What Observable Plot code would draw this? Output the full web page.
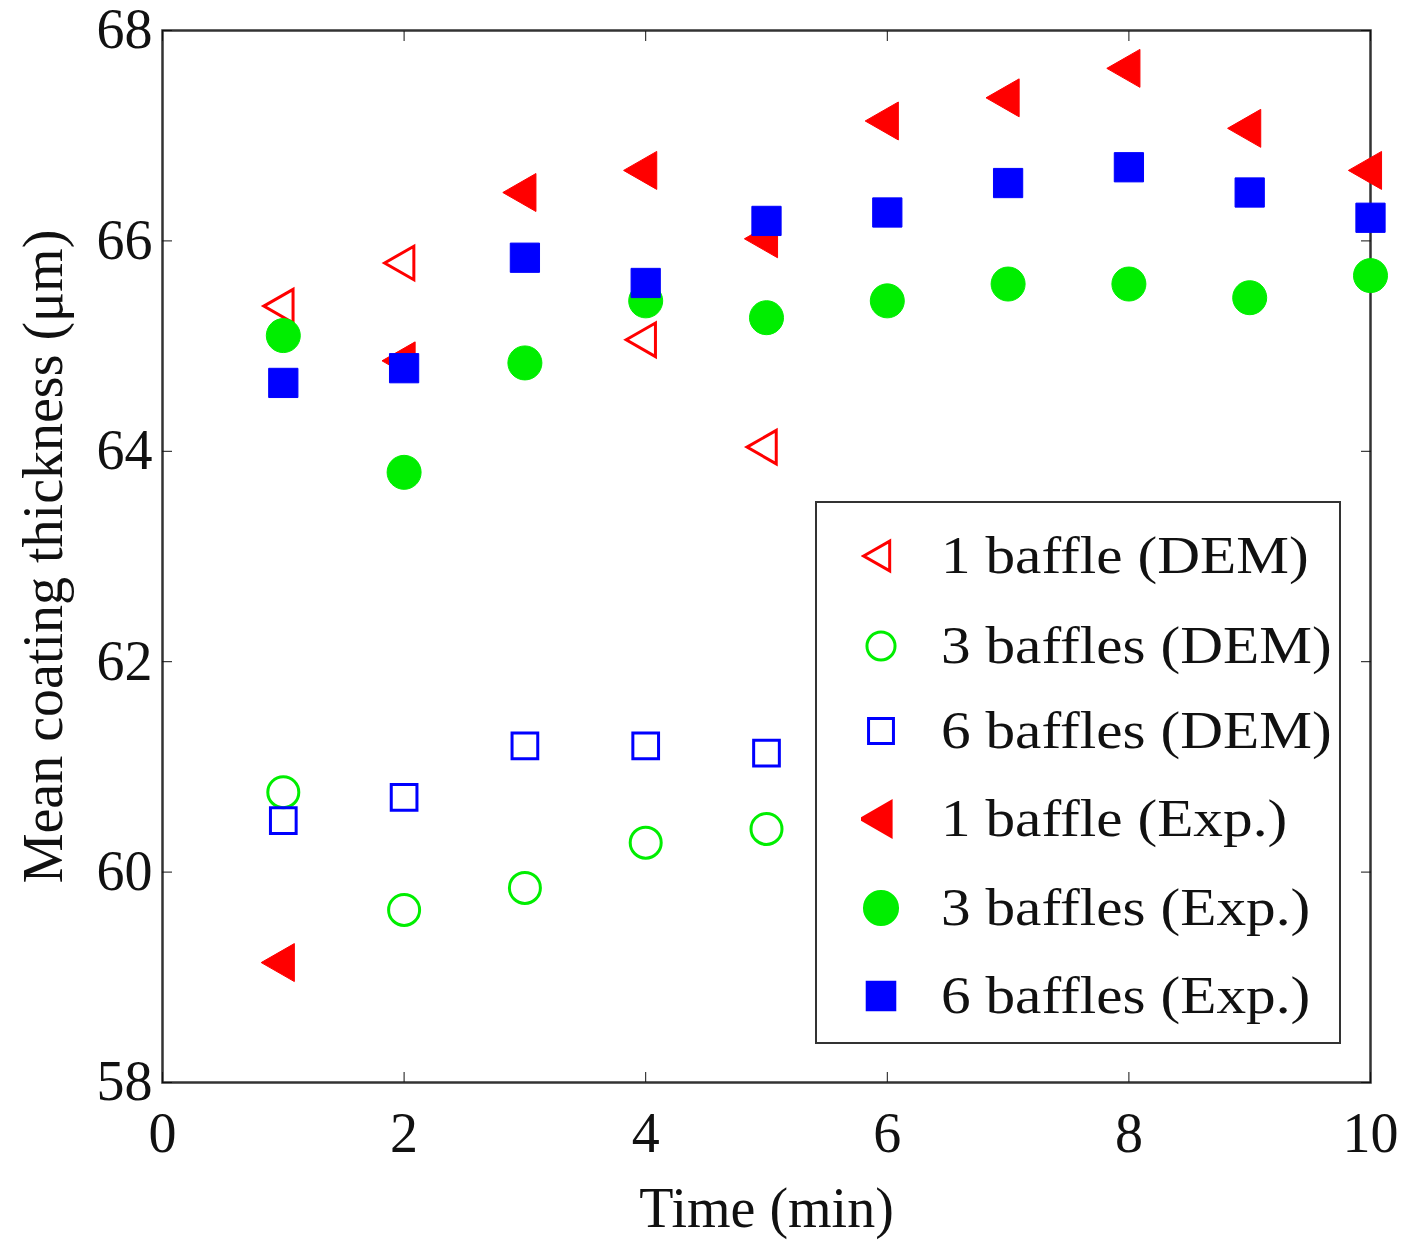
<!DOCTYPE html>
<html>
<head>
<meta charset="utf-8">
<script src="https://cdn.jsdelivr.net/npm/d3@7"></script>
<script src="https://cdn.jsdelivr.net/npm/@observablehq/plot@0.6"></script>
<style>
  html, body { margin: 0; padding: 0; background: #fff; }
  #wrap { position: relative; width: 1407px; height: 1241px; font-family: "Liberation Serif", "Times New Roman", serif; }
  #legend { position: absolute; left: 815px; top: 501px; width: 522px; height: 539px; border: 2px solid #333; background: #fff; }
  .row { position: absolute; left: 0; height: 60px; width: 100%; }
  .row svg { position: absolute; left: 44px; top: 10px; }
  .row span { position: absolute; left: 124px; top: 0; font-size: 52px; line-height: 60px; color: #111; white-space: nowrap; transform: scaleX(1.14); transform-origin: left center; }
</style>
</head>
<body>
<div id="wrap"></div>
<script>
// ---- data ----
const timeAll = [1, 2, 3, 4, 5, 6, 7, 8, 9, 10];
const timeDEM = [1, 2, 3, 4, 5];

const dem1 = [65.38, 65.79, null, 65.06, 64.04];
const dem3 = [60.76, 59.64, 59.85, 60.28, 60.41];
const dem6 = [60.49, 60.71, 61.20, 61.20, 61.13];

const exp1 = [59.14, 64.86, 66.46, 66.67, 66.02, 67.14, 67.36, 67.64, 67.07, 66.67];
const exp3 = [65.10, 63.80, 64.84, 65.43, 65.27, 65.43, 65.59, 65.59, 65.46, 65.67];
const exp6 = [64.65, 64.79, 65.84, 65.60, 66.19, 66.27, 66.55, 66.70, 66.46, 66.22];

const xTicks = [0, 2, 4, 6, 8, 10];
const yTicks = [58, 60, 62, 64, 66, 68];

const seriesNames = ["1 baffle (DEM)", "3 baffles (DEM)", "6 baffles (DEM)",
                     "1 baffle (Exp.)", "3 baffles (Exp.)", "6 baffles (Exp.)"];

const RED = "#ff0000", GREEN = "#00ee00", BLUE = "#0000ff";

// left-pointing triangle symbol
const leftTriangle = {
  draw(context, size) {
    const k = Math.sqrt(size);
    const s = 1.26 * k, h = 1.1 * k;
    context.moveTo(-2 * h / 3, 0);
    context.lineTo(h / 3, -s / 2);
    context.lineTo(h / 3, s / 2);
    context.closePath();
  }
};

function rows(times, values) {
  return times.map((t, i) => ({t, v: values[i]})).filter(d => d.v != null);
}

const plot = Plot.plot({
  width: 1407,
  height: 1241,
  marginLeft: 162,
  marginRight: 37,
  marginTop: 30,
  marginBottom: 159,
  style: {fontFamily: "Liberation Serif, Times New Roman, serif", fontSize: "54px", color: "#111", background: "#fff", overflow: "visible"},
  x: {domain: [0, 10]},
  y: {domain: [58, 68]},
  marks: [
    Plot.frame({stroke: "#333", strokeWidth: 2.5}),
    Plot.axisX({anchor: "bottom", ticks: xTicks, tickSize: -10, tickPadding: 40, label: "Time (min)", labelArrow: "none", labelAnchor: "center", labelOffset: 144, fontSize: 56}),
    Plot.axisX({anchor: "top", ticks: xTicks, tickSize: -10, tickFormat: () => "", label: null}),
    Plot.axisY({anchor: "left", ticks: yTicks, tickSize: -10, tickPadding: 20, label: "Mean coating thickness (μm)", labelArrow: "none", labelAnchor: "center", labelOffset: 140, fontSize: 56}),
    Plot.axisY({anchor: "right", ticks: yTicks, tickSize: -10, tickFormat: () => "", label: null}),
    // DEM (open)
    Plot.dot(rows(timeDEM, dem1), {x: "t", y: "v", symbol: leftTriangle, r: 15, stroke: RED, strokeWidth: 3, fill: "none"}),
    Plot.dot(rows(timeDEM, dem3), {x: "t", y: "v", symbol: "circle", r: 15.5, stroke: GREEN, strokeWidth: 3, fill: "none"}),
    Plot.dot(rows(timeDEM, dem6), {x: "t", y: "v", symbol: "square", r: 14.5, stroke: BLUE, strokeWidth: 3, fill: "none"}),
    // Experiments (filled)
    Plot.dot(rows(timeAll, exp1), {x: "t", y: "v", symbol: leftTriangle, r: 17, fill: RED, stroke: RED, strokeWidth: 1}),
    Plot.dot(rows(timeAll, exp3), {x: "t", y: "v", symbol: "circle", r: 17, fill: GREEN, stroke: GREEN, strokeWidth: 1}),
    Plot.dot(rows(timeAll, exp6), {x: "t", y: "v", symbol: "square", r: 16.5, fill: BLUE, stroke: BLUE, strokeWidth: 1})
  ]
});

const wrap = document.getElementById("wrap");
wrap.appendChild(plot);

// legend (inside the axes, as in the reference)
const legendSymbols = [
  {sym: leftTriangle, fill: "none", stroke: RED, size: 560},
  {sym: d3.symbolCircle, fill: "none", stroke: GREEN, size: 620},
  {sym: d3.symbolSquare, fill: "none", stroke: BLUE, size: 620},
  {sym: leftTriangle, fill: RED, stroke: RED, size: 760},
  {sym: d3.symbolCircle, fill: GREEN, stroke: GREEN, size: 860},
  {sym: d3.symbolSquare, fill: BLUE, stroke: BLUE, size: 760}
];
const rowTops = [23, 113, 198, 286, 375, 463];
const legend = document.createElement("div");
legend.id = "legend";
seriesNames.forEach((name, i) => {
  const row = document.createElement("div");
  row.className = "row";
  row.style.top = rowTops[i] + "px";
  const s = legendSymbols[i];
  const svg = d3.create("svg").attr("width", 40).attr("height", 40);
  svg.append("path")
    .attr("transform", "translate(20,20)")
    .attr("d", d3.symbol(s.sym, s.size)())
    .attr("fill", s.fill)
    .attr("stroke", s.stroke)
    .attr("stroke-width", 3);
  row.appendChild(svg.node());
  const span = document.createElement("span");
  span.textContent = name;
  row.appendChild(span);
  legend.appendChild(row);
});
wrap.appendChild(legend);
</script>
</body>
</html>
